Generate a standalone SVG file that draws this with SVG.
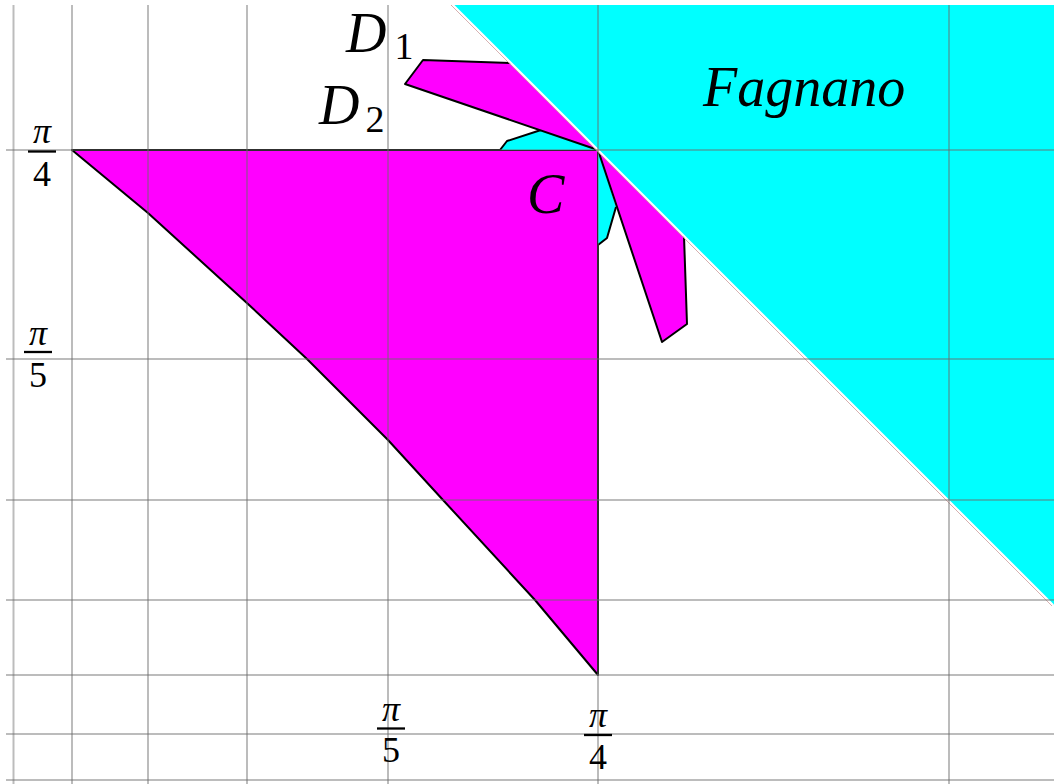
<svg xmlns="http://www.w3.org/2000/svg" width="1054" height="784" viewBox="0 0 1054 784">
<defs>
<style>
.grid line{stroke:#6a6a6a;stroke-opacity:0.45;stroke-width:2}
.edge{fill:none;stroke:#000;stroke-width:2;stroke-linejoin:round}
.mag{fill:#ff00ff}
.cy{fill:#00ffff}
.lbl{font-family:"Liberation Serif","DejaVu Serif",serif;font-style:italic;fill:#000}
.num{font-family:"Liberation Serif","DejaVu Serif",serif;fill:#000;text-anchor:middle}
.bar{stroke:#000;stroke-width:2.3}
</style>
</defs>
<rect width="1054" height="784" fill="#fff"/>
<g id="fagnano-region">
<polygon class="cy" points="453,5 1054,5 1054,606"/>
</g>
<g id="triangle">
<path class="mag" d="M72,150 L598,150 L598,675 L535,600 L443,500 L388,440 L360,412 L307,359 L248,304 L148,213 Z"/>
<path class="edge" d="M72,150 L598,150 L598,675 L535,600 L443,500 L388,440 L360,412 L307,359 L248,304 L148,213 Z"/>
</g>
<g id="cyan-upper">
<polygon class="cy" points="500,150 507,141 541,130 598,150"/>
<polyline class="edge" points="500,150 507,141 541,130"/>
</g>
<g id="cyan-lower">
<polygon class="cy" points="598,150 616,207 607,238 598,245"/>
<polyline class="edge" points="616,207 607,238 598,245"/>
</g>
<g id="wedge-D">
<polygon class="mag" points="598,150 405,84 423,60 511,63"/>
<polyline class="edge" points="598,150 405,84 423,60 511,63"/>
</g>
<g id="wedge-lower">
<polygon class="mag" points="598,150 662,342 687,324 684,236"/>
<polyline class="edge" points="598,150 662,342 687,324 684,236"/>
</g>
<g id="boundary">
<line x1="451" y1="5" x2="1052" y2="606" stroke="#c89090" stroke-width="0.8"/>
<line x1="453" y1="5" x2="1054" y2="606" stroke="#fff" stroke-width="2"/>
</g>
<g class="grid" id="grid">
<line x1="13.5" y1="5" x2="13.5" y2="784"/>
<line x1="72" y1="5" x2="72" y2="784"/>
<line x1="148" y1="5" x2="148" y2="784"/>
<line x1="247" y1="5" x2="247" y2="784"/>
<line x1="388" y1="5" x2="388" y2="784"/>
<line x1="598" y1="5" x2="598" y2="784"/>
<line x1="949" y1="5" x2="949" y2="784"/>
<line x1="6" y1="150" x2="1054" y2="150"/>
<line x1="6" y1="359" x2="1054" y2="359"/>
<line x1="6" y1="500" x2="1054" y2="500"/>
<line x1="6" y1="600" x2="1054" y2="600"/>
<line x1="6" y1="675" x2="1054" y2="675"/>
<line x1="6" y1="734" x2="1054" y2="734"/>
<line x1="6" y1="780" x2="1054" y2="780"/>
</g>
<g id="labels">
<text class="lbl" x="703" y="106" font-size="56">Fagnano</text>
<text class="lbl" x="527" y="213" font-size="56">C</text>
<text class="lbl" x="346" y="52" font-size="56">D</text>
<text class="num" x="404" y="59" font-size="38">1</text>
<text class="lbl" x="319" y="124" font-size="56">D</text>
<text class="num" x="375" y="132" font-size="38">2</text>
</g>
<g id="tick-left-pi4">
<text class="lbl" x="42" y="143" font-size="36" text-anchor="middle">π</text>
<line class="bar" x1="28" y1="151.5" x2="56" y2="151.5"/>
<text class="num" x="42" y="186" font-size="36">4</text>
</g>
<g id="tick-left-pi5">
<text class="lbl" x="38" y="345" font-size="36" text-anchor="middle">π</text>
<line class="bar" x1="24" y1="352" x2="52" y2="352"/>
<text class="num" x="38" y="387" font-size="36">5</text>
</g>
<g id="tick-bottom-pi5">
<text class="lbl" x="391" y="721" font-size="36" text-anchor="middle">π</text>
<line class="bar" x1="377" y1="728.5" x2="405" y2="728.5"/>
<text class="num" x="391" y="762" font-size="36">5</text>
</g>
<g id="tick-bottom-pi4">
<text class="lbl" x="598" y="727" font-size="36" text-anchor="middle">π</text>
<line class="bar" x1="584" y1="735" x2="612" y2="735"/>
<text class="num" x="598" y="769" font-size="36">4</text>
</g>
</svg>
